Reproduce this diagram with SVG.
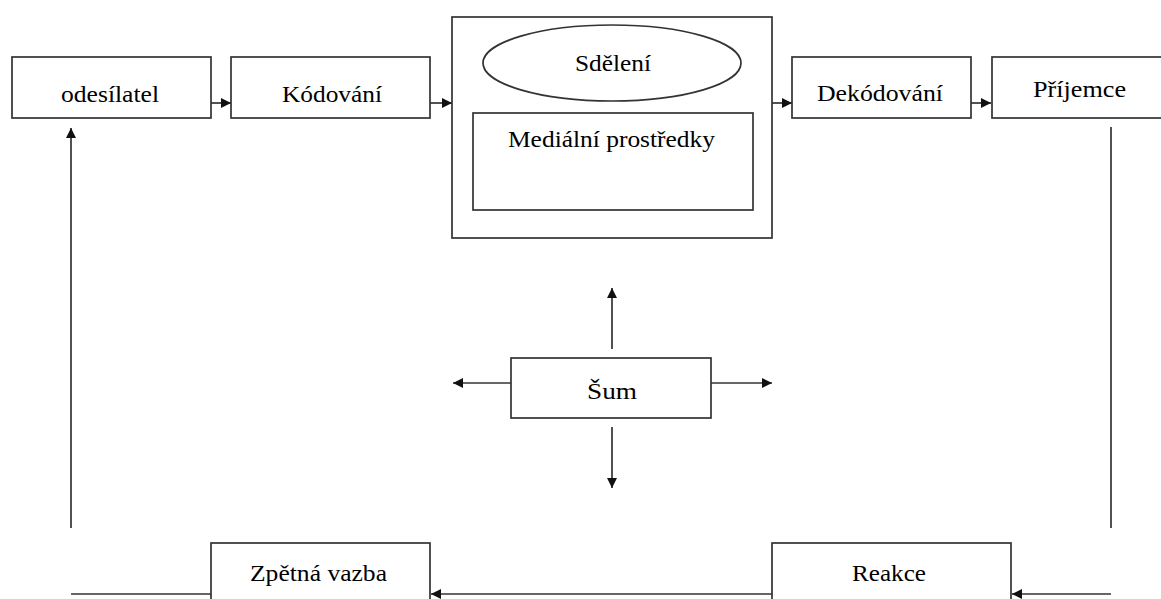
<svg xmlns="http://www.w3.org/2000/svg" width="1161" height="599" viewBox="0 0 1161 599">
<style>
.box{fill:#fff;stroke:#333;stroke-width:1.7}
.ln{fill:none;stroke:#333;stroke-width:1.7}
text{font-family:"Liberation Serif","Times New Roman",Times,serif;font-size:23px;fill:#000}
</style>
<defs>
<marker id="ah" viewBox="0 0 10 10" refX="10" refY="5" markerWidth="10" markerHeight="10" markerUnits="userSpaceOnUse" orient="auto">
<path d="M0,0 L10,5 L0,10 z" fill="#111"/>
</marker>
</defs>
<rect width="1161" height="599" fill="#fff"/>
<g id="connectors">
<line class="ln" x1="211" y1="103" x2="231" y2="103" marker-end="url(#ah)"/>
<line class="ln" x1="430" y1="103" x2="452" y2="103" marker-end="url(#ah)"/>
<line class="ln" x1="772" y1="103" x2="792" y2="103" marker-end="url(#ah)"/>
<line class="ln" x1="971" y1="103" x2="991" y2="103" marker-end="url(#ah)"/>
<line class="ln" x1="612" y1="349" x2="612" y2="288" marker-end="url(#ah)"/>
<line class="ln" x1="612" y1="427" x2="612" y2="488" marker-end="url(#ah)"/>
<line class="ln" x1="511" y1="383" x2="453" y2="383" marker-end="url(#ah)"/>
<line class="ln" x1="711" y1="383" x2="772" y2="383" marker-end="url(#ah)"/>
<line class="ln" x1="1111" y1="127" x2="1111" y2="528"/>
<line class="ln" x1="1111" y1="594" x2="1012" y2="594" marker-end="url(#ah)"/>
<line class="ln" x1="772" y1="594" x2="431" y2="594" marker-end="url(#ah)"/>
<line class="ln" x1="211" y1="594" x2="71" y2="594"/>
<line class="ln" x1="71" y1="528" x2="71" y2="128" marker-end="url(#ah)"/>
</g>
<g id="odesilatel">
<rect class="box" x="12" y="57" width="199" height="61"/>
<text x="61" y="102" textLength="98" lengthAdjust="spacingAndGlyphs">odesílatel</text>
</g>
<g id="kodovani">
<rect class="box" x="231" y="57" width="199" height="61"/>
<text x="282" y="102" textLength="100" lengthAdjust="spacingAndGlyphs">Kódování</text>
</g>
<g id="medium">
<rect class="box" x="452" y="17" width="320" height="221"/>
<ellipse class="box" cx="612" cy="63" rx="129" ry="38"/>
<text x="575" y="71" textLength="76" lengthAdjust="spacingAndGlyphs">Sdělení</text>
<rect class="box" x="473" y="113" width="280" height="97"/>
<text x="508" y="147" textLength="207" lengthAdjust="spacingAndGlyphs">Mediální prostředky</text>
</g>
<g id="dekodovani">
<rect class="box" x="792" y="57" width="179" height="61"/>
<text x="817" y="101" textLength="126" lengthAdjust="spacingAndGlyphs">Dekódování</text>
</g>
<g id="prijemce">
<rect class="box" x="992" y="57" width="180" height="61"/>
<text x="1033" y="97" textLength="93" lengthAdjust="spacingAndGlyphs">Příjemce</text>
</g>
<g id="sum">
<rect class="box" x="511" y="358" width="200" height="60"/>
<text x="587" y="399" textLength="50" lengthAdjust="spacingAndGlyphs">Šum</text>
</g>
<g id="zpetna-vazba">
<rect class="box" x="211" y="543" width="219" height="70"/>
<text x="250" y="581" textLength="137" lengthAdjust="spacingAndGlyphs">Zpětná vazba</text>
</g>
<g id="reakce">
<rect class="box" x="772" y="543" width="239" height="70"/>
<text x="852" y="581" textLength="74" lengthAdjust="spacingAndGlyphs">Reakce</text>
</g>
</svg>
